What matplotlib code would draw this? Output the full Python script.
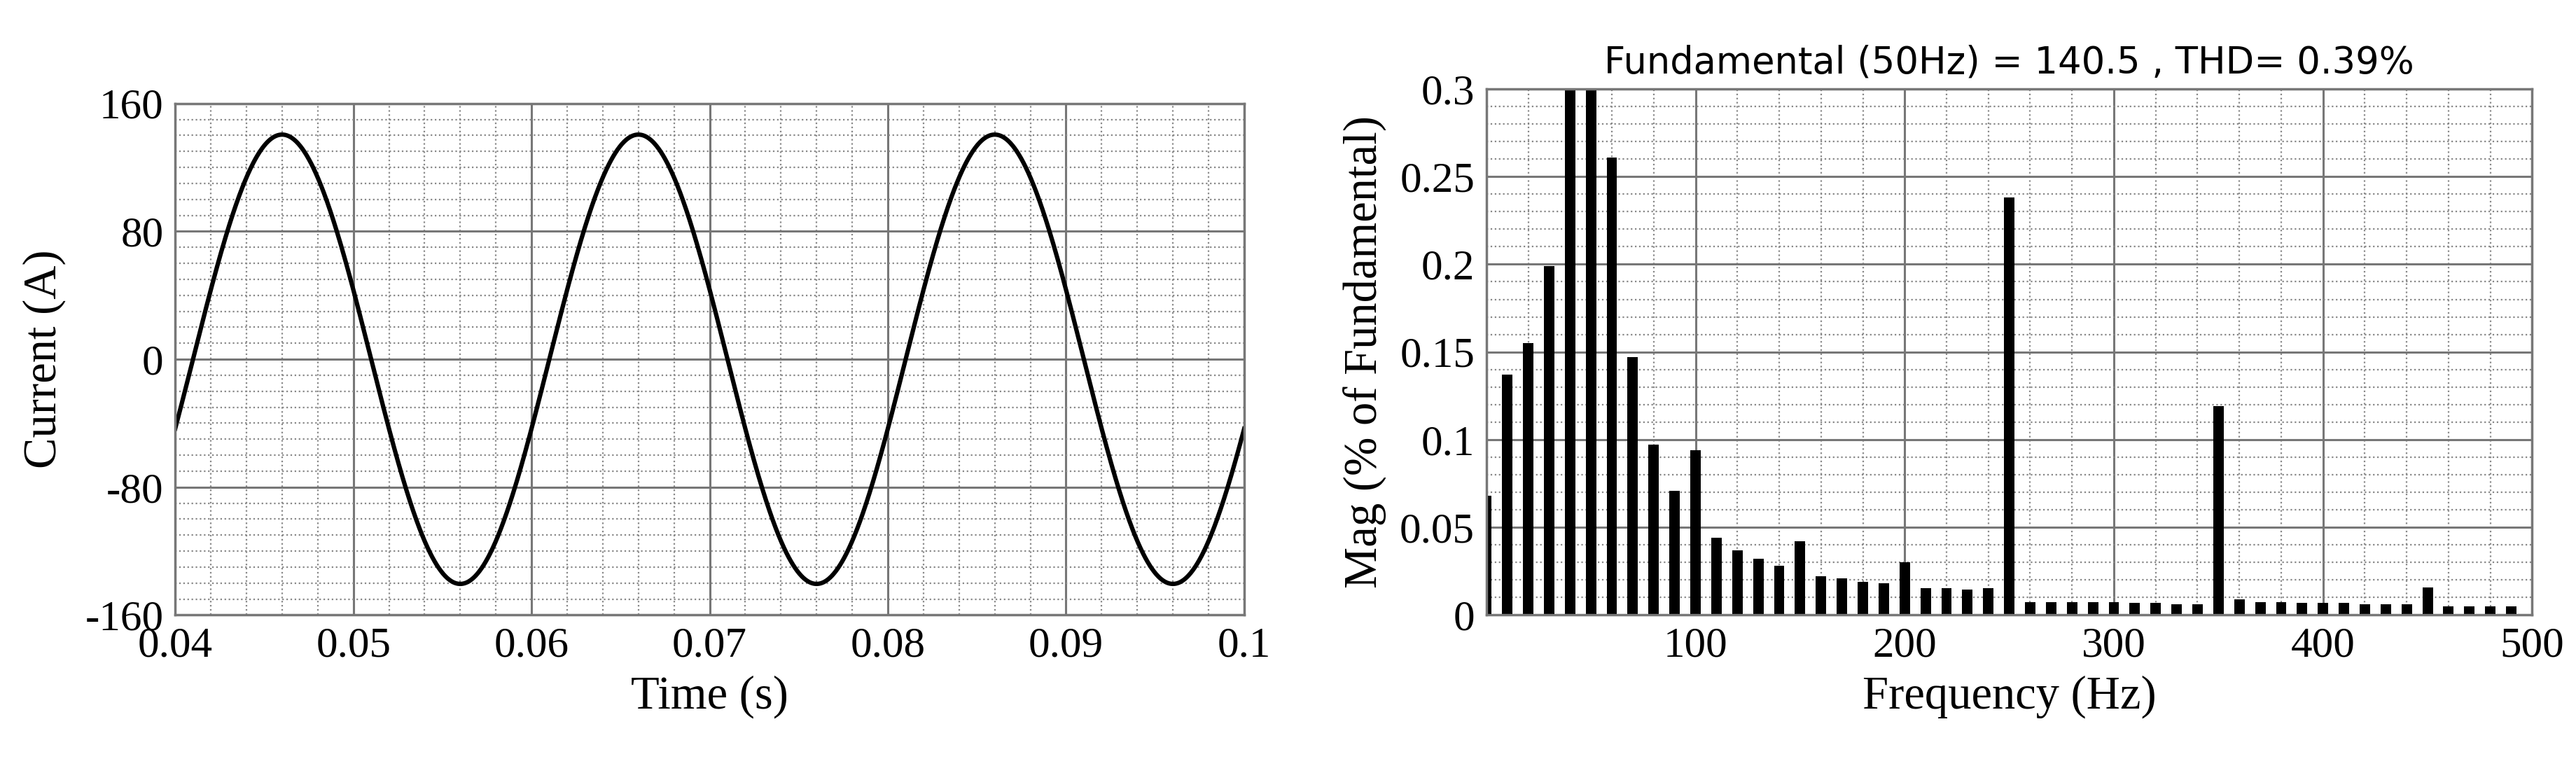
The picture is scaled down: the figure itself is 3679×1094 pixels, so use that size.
import numpy as np
import matplotlib.pyplot as plt
from matplotlib.ticker import MultipleLocator

plt.rcParams['axes.unicode_minus'] = False

# current waveform
amp = 140.5          # A
f0 = 50.0            # Hz
t_zero = 0.0410      # s, rising zero crossing
t_start, t_end = 0.04, 0.1

# harmonic spectrum, % of fundamental, 0..490 Hz in 10 Hz steps
freqs = np.arange(0, 500, 10)
mags = [0.068, 0.137, 0.155, 0.199, 0.35, 100.0, 0.261, 0.147, 0.097, 0.071,
        0.094, 0.044, 0.037, 0.032, 0.028, 0.042, 0.022, 0.021, 0.019, 0.018,
        0.030, 0.0155, 0.0155, 0.0145, 0.0155, 0.238, 0.0075, 0.0075, 0.0075, 0.0075,
        0.0075, 0.007, 0.007, 0.006, 0.006, 0.119, 0.009, 0.0075, 0.0075, 0.007,
        0.007, 0.007, 0.006, 0.006, 0.006, 0.0157, 0.005, 0.005, 0.005, 0.005]

serif = ['Liberation Serif', 'DejaVu Serif']
fig = plt.figure(figsize=(36.79, 10.94), dpi=100)

def style_grid(ax):
    ax.grid(which='major', color='#777777', lw=2.2, ls='-')
    ax.grid(which='minor', color='#888888', lw=1.6, ls=':')
    ax.set_axisbelow(True)
    ax.tick_params(which='both', length=0, labelsize=44, pad=12)
    for s in ax.spines.values():
        s.set_color('#777777'); s.set_linewidth(2.5)
    for lab in ax.get_xticklabels() + ax.get_yticklabels():
        lab.set_family(serif)

ax1 = fig.add_axes([0.068, 0.197, 0.415, 0.668])
t = np.linspace(t_start, t_end, 2000)
ax1.plot(t, amp * np.sin(2 * np.pi * f0 * (t - t_zero)), color='black', lw=4.5)
ax1.set_xlim(t_start, t_end)
ax1.set_ylim(-160, 160)
ax1.set_xticks([0.04, 0.05, 0.06, 0.07, 0.08, 0.09, 0.1])
ax1.set_xticklabels(['0.04', '0.05', '0.06', '0.07', '0.08', '0.09', '0.1'])
ax1.set_yticks([-160, -80, 0, 80, 160])
ax1.xaxis.set_minor_locator(MultipleLocator(0.002))
ax1.yaxis.set_minor_locator(MultipleLocator(10))
style_grid(ax1)
ax1.set_xlabel('Time (s)', fontsize=48, family=serif, labelpad=10)
ax1.set_ylabel('Current (A)', fontsize=48, family=serif, labelpad=20)

ax2 = fig.add_axes([0.577, 0.197, 0.406, 0.687])
ax2.bar(freqs, mags, width=5, color='black')
ax2.set_xlim(0, 500)
ax2.set_ylim(0, 0.3)
ax2.set_xticks([100, 200, 300, 400, 500])
ax2.set_yticks([0, 0.05, 0.1, 0.15, 0.2, 0.25, 0.3])
ax2.set_yticklabels(['0', '0.05', '0.1', '0.15', '0.2', '0.25', '0.3'])
ax2.xaxis.set_minor_locator(MultipleLocator(20))
ax2.yaxis.set_minor_locator(MultipleLocator(0.01))
style_grid(ax2)
ax2.set_xlabel('Frequency (Hz)', fontsize=48, family=serif, labelpad=10)
ax2.set_ylabel('Mag (% of Fundamental)', fontsize=48, family=serif, labelpad=14)
ax2.set_title('Fundamental (50Hz) = 140.5 , THD= 0.39%', fontsize=38, pad=16)

fig.savefig('out.png', dpi=100)
